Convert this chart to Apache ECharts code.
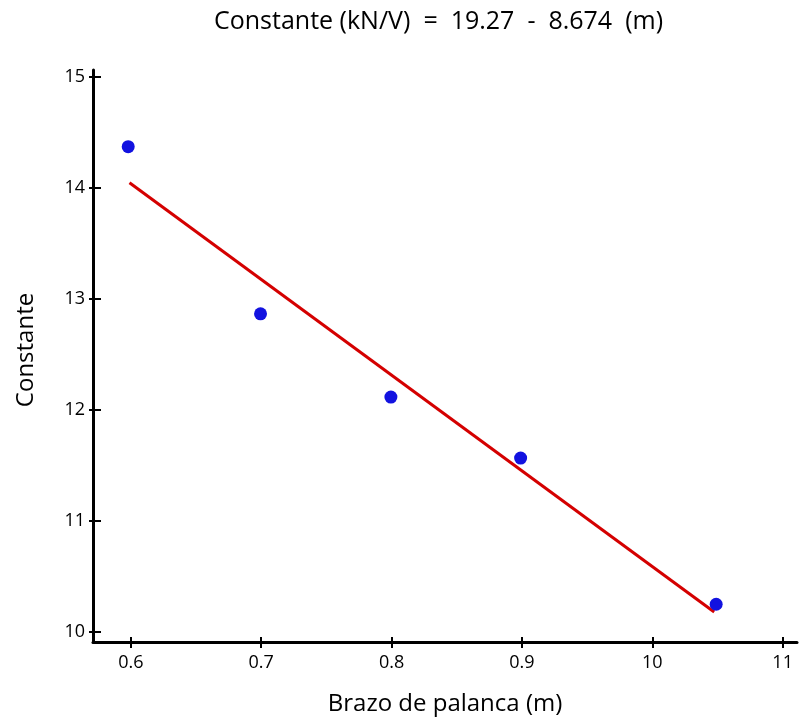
<!DOCTYPE html>
<html>
<head>
    <meta charset="UTF-8">
    <title>Constante vs Brazo de palanca</title>
    <script src="https://cdn.jsdelivr.net/npm/echarts@6/dist/echarts.min.js"></script>
    <style>
        html, body { margin: 0; padding: 0; background: #fff; }
        #main { width: 799px; height: 723px; }
    </style>
</head>
<body>
    <div id="main"></div>
    <script>
        // datos
        var brazo = [0.598, 0.6995, 0.7995, 0.899, 1.049];
        var constante = [14.37, 12.865, 12.115, 11.566, 10.25];
        // extremos de la recta ajustada
        var ajusteX = [0.599, 1.0475];
        var ajusteY = [14.045, 10.18];
        // marcas de los ejes
        var xTicks = [0.6, 0.7, 0.8, 0.9, 1.0, 1.1];
        var xTickLabels = ['0.6', '0.7', '0.8', '0.9', '10', '11'];
        var yTicks = [10, 11, 12, 13, 14, 15];
        var yTickLabels = ['10', '11', '12', '13', '14', '15'];

        var puntos = brazo.map(function (x, i) { return [x, constante[i]]; });
        var recta = ajusteX.map(function (x, i) { return [x, ajusteY[i]]; });

        var fuente = '"Open Sans", "Noto Sans", sans-serif';

        function etiqueta(vals, labels) {
            return function (v) {
                for (var i = 0; i < vals.length; i++) {
                    if (Math.abs(vals[i] - v) < 1e-6) return labels[i];
                }
                return '';
            };
        }

        var chart = echarts.init(document.getElementById('main'));
        chart.setOption({
            animation: false,
            title: {
                text: 'Constante (kN/V)  =  19.27  -  8.674  (m)',
                left: 209,
                top: 4,
                textStyle: { fontFamily: fuente, fontSize: 25, fontWeight: 'normal', color: '#000' }
            },
            grid: { left: 93, right: 2, top: 70, bottom: 81 },
            xAxis: [{
                type: 'value',
                min: 0.571,
                max: 1.111,
                name: 'Brazo de palanca (m)',
                nameLocation: 'middle',
                nameGap: 50,
                nameTextStyle: { fontFamily: fuente, fontSize: 24, color: '#000' },
                splitLine: { show: false },
                axisLine: { lineStyle: { color: '#000', width: 3 } },
                axisTick: { customValues: xTicks, length: 6, lineStyle: { color: '#000', width: 2 } },
                axisLabel: {
                    customValues: xTicks,
                    formatter: etiqueta(xTicks, xTickLabels),
                    margin: 12,
                    fontFamily: fuente, fontSize: 18, color: '#000'
                }
            }, {
                type: 'value',
                min: 0.571,
                max: 1.111,
                position: 'bottom',
                splitLine: { show: false },
                axisLine: { show: false },
                axisTick: { customValues: xTicks, inside: true, length: 5, lineStyle: { color: '#000', width: 2 } },
                axisLabel: { show: false }
            }],
            yAxis: [{
                type: 'value',
                min: 9.91,
                max: 15.06,
                name: 'Constante',
                nameLocation: 'middle',
                nameGap: 55,
                nameTextStyle: { fontFamily: fuente, fontSize: 24, color: '#000', padding: [0, 0, 0, 12] },
                splitLine: { show: false },
                axisLine: { lineStyle: { color: '#000', width: 3 } },
                axisTick: { customValues: yTicks, length: 4, lineStyle: { color: '#000', width: 2 } },
                axisLabel: {
                    customValues: yTicks,
                    formatter: etiqueta(yTicks, yTickLabels),
                    margin: 8,
                    fontFamily: fuente, fontSize: 18, color: '#000'
                }
            }, {
                type: 'value',
                min: 9.91,
                max: 15.06,
                position: 'left',
                splitLine: { show: false },
                axisLine: { show: false },
                axisTick: { customValues: yTicks, inside: true, length: 8, lineStyle: { color: '#000', width: 2 } },
                axisLabel: { show: false }
            }],
            series: [{
                type: 'line',
                data: recta,
                symbol: 'none',
                lineStyle: { color: '#d40000', width: 3 },
                z: 2
            }, {
                type: 'scatter',
                data: puntos,
                symbol: 'circle',
                symbolSize: 13,
                itemStyle: { color: '#1212e0', opacity: 1 },
                z: 3
            }]
        });
    </script>
</body>
</html>
